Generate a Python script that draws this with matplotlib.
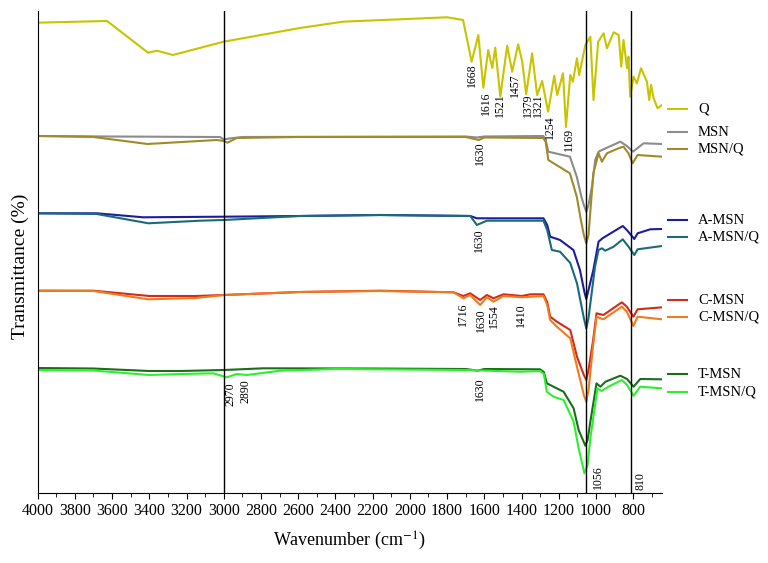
import matplotlib
matplotlib.use("Agg")
import matplotlib.pyplot as plt
from matplotlib.lines import Line2D

plt.rcParams['font.family'] = 'Liberation Serif'
plt.rcParams['mathtext.fontset'] = 'stix'

# spectra (wavenumber in cm-1, transmittance in a.u., stacked)
q_wn = [4000, 3627, 3407, 3359, 3273, 3000, 2590, 2359, 2052, 1800, 1714, 1668, 1632, 1605, 1579,
        1557, 1541, 1514, 1477, 1450, 1418, 1396, 1375, 1343, 1316, 1289, 1257, 1224, 1208, 1177,
        1161, 1138, 1124, 1102, 1090, 1057, 1030, 1013, 988, 959, 941, 905, 878, 864, 852, 833,
        825, 816, 798, 780, 758, 726, 714, 704, 690, 669, 645]
q_t = [470.3, 472, 440.3, 442.3, 438, 451.3, 465, 471.3, 473.7, 475.7, 473, 431.3, 458, 405.3, 443,
       425, 445.3, 396.3, 447.3, 421.3, 448.7, 431.3, 398.7, 439.7, 398, 412, 381.3, 417.3, 398, 419.7,
       366, 418, 411.3, 434.7, 418, 448, 456.3, 393, 451.3, 459.7, 444.7, 460.7, 458, 426.3, 453, 424.7,
       436.3, 396.3, 416.3, 409.7, 424.7, 411.3, 393, 408, 394.7, 384.7, 388]

msn_wn = [4000, 3610, 3056, 3020, 3000, 2970, 2900, 1700, 1640, 1600, 1283, 1270, 1256, 1140, 1103,
          1078, 1065, 1052, 1040, 1020, 1004, 986, 968, 869, 834, 801, 744, 645]
msn_t = [357, 356.5, 356, 356, 353.5, 354.5, 356, 356.5, 355.5, 356.5, 357, 353, 341.3, 336.3, 316.3,
         296, 288, 281.3, 288, 308, 333, 341.3, 343, 351.3, 347, 341.3, 349.7, 349]

msnq_wn = [4000, 3700, 3410, 3037, 3000, 2980, 2930, 2600, 1700, 1630, 1600, 1283, 1270, 1256, 1140,
           1103, 1082, 1065, 1052, 1040, 1014, 986, 968, 941, 879, 852, 825, 803, 776, 645]
msnq_t = [357, 356, 349, 353, 352, 350.3, 355, 356, 356, 353, 355.5, 355, 351, 333, 319.7,
          296.3, 274, 258, 249.7, 258, 319.7, 339.7, 331.3, 339.7, 344.7, 346.3, 339.7, 329.7, 338, 336.3]

amsn_wn = [4000, 3683, 3433, 3000, 2590, 2161, 1675, 1640, 1282, 1262, 1246, 1193, 1121, 1086, 1062,
           1052, 1040, 1014, 986, 965, 856, 834, 794, 776, 708, 645]
amsn_t = [279.7, 279.7, 275.7, 276.3, 277, 278, 277, 274.7, 274.7, 268, 256.3, 253, 243, 223, 201,
          194, 203, 223, 251.3, 254.7, 267, 263, 254, 259.7, 263.7, 264]

amsnq_wn = [4000, 3683, 3405, 3127, 3000, 2590, 2161, 1675, 1640, 1586, 1282, 1262, 1237, 1193, 1138,
            1102, 1065, 1052, 1040, 1005, 986, 968, 950, 905, 856, 825, 794, 776, 645]
amsnq_t = [279.7, 279, 269.7, 272.3, 273, 277, 278, 277, 268, 272.3, 272.3, 263, 243, 241.3, 230,
           209.7, 175, 164.7, 175, 226.3, 243, 244.7, 242.3, 246.3, 253.7, 246.3, 238, 243.7, 247]

cmsn_wn = [4000, 3700, 3400, 3150, 3000, 2590, 2161, 1766, 1712, 1676, 1622, 1586, 1551, 1497, 1398,
           1353, 1282, 1262, 1246, 1210, 1138, 1102, 1065, 1052, 1040, 1015, 997, 960, 861, 834,
           799, 776, 645]
cmsn_t = [202.3, 202.3, 197, 197, 198, 201, 202.3, 200.7, 197, 199.7, 193, 198, 194.7, 198.7, 197,
          198.7, 198.7, 191, 176.3, 171.3, 163, 136.3, 118, 113, 123, 153, 179.7, 178, 190.7, 186.3,
          176.3, 183.7, 185.7]

cmsnq_wn = [4000, 3700, 3405, 3150, 3000, 2590, 2161, 1766, 1712, 1676, 1622, 1586, 1551, 1497, 1398,
            1282, 1262, 1246, 1210, 1138, 1102, 1065, 1052, 1040, 1015, 997, 960, 861, 834, 799,
            776, 645]
cmsnq_t = [202.3, 202, 193.7, 195, 198, 201, 202, 200.7, 194.7, 198, 188, 195.7, 191.3, 197, 195.7,
           197, 188, 173, 166.3, 154.7, 126.3, 98, 91.3, 103, 148, 176.3, 173.7, 186.3, 181.3, 167,
           176.3, 173.7]

tmsn_wn = [4000, 3700, 3400, 3234, 3000, 2789, 2200, 1700, 1635, 1600, 1300, 1280, 1264, 1228, 1174,
           1120, 1093, 1057, 1045, 1030, 997, 976, 949, 869, 833, 798, 762, 645]
tmsn_t = [125, 124.5, 122, 122, 123, 124.7, 124.5, 124, 122.3, 124, 123.7, 121, 109.7, 106.3, 101.3,
          84.7, 63, 47.3, 53, 71.3, 109.7, 106.3, 111.3, 117.3, 114, 106.3, 114, 113.7]

tmsnq_wn = [4000, 3700, 3400, 3234, 3057, 2984, 2930, 2876, 2697, 2400, 1700, 1406, 1300, 1280, 1264,
            1228, 1174, 1120, 1093, 1062, 1045, 1030, 992, 970, 933, 861, 833, 798, 762, 645]
tmsnq_t = [123, 122.5, 118, 119, 119.7, 115.7, 119, 118, 122.3, 124, 123, 121.3, 122, 119, 101.3,
           96.3, 93, 71.3, 44.7, 19.7, 28, 54.7, 104.7, 102, 106.3, 113, 108, 97.3, 106.3, 104.7]

names = ["Q", "MSN", "MSN/Q", "A-MSN", "A-MSN/Q", "C-MSN", "C-MSN/Q", "T-MSN", "T-MSN/Q"]
wns = [q_wn, msn_wn, msnq_wn, amsn_wn, amsnq_wn, cmsn_wn, cmsnq_wn, tmsn_wn, tmsnq_wn]
ts = [q_t, msn_t, msnq_t, amsn_t, amsnq_t, cmsn_t, cmsnq_t, tmsn_t, tmsnq_t]
colors = ["#c8c400", "#8c8c8c", "#a08a2a", "#1c1ca0", "#1a6b78",
          "#d42a1a", "#f07a1e", "#1a6e1a", "#2cf02c"]

# peak labels: text, x (cm-1), top of text (a.u.)
peak_text = ["1668", "1616", "1521", "1457", "1379", "1321", "1254", "1169",
             "1630", "1630", "1716", "1630", "1554", "1410", "1630", "2970", "2890", "1056", "810"]
peak_x = [1668, 1591, 1514, 1434, 1366, 1309, 1246, 1147,
          1622, 1626, 1712, 1618, 1547, 1403, 1622, 2966, 2885, 991, 762]
peak_y = [430, 401, 400, 420, 399, 399, 378, 365,
          352, 265, 191, 185, 189, 190, 116, 111, 114, 28, 21]

vlines = [3000, 1056, 810]

# legend rows (figure pixel y from top)
legend_py = [109, 132, 149, 220, 236.7, 300, 317, 374, 391.7]

fig = plt.figure(figsize=(7.68, 5.63), dpi=100)
ax = fig.add_axes([0.049, 0.1243, 0.813, 0.8562])

for wn, t, c in zip(wns, ts, colors):
    ax.plot(wn, t, color=c, lw=1.5)

for v in vlines:
    ax.axvline(v, color="black", lw=1)

for s, x, y in zip(peak_text, peak_x, peak_y):
    ax.text(x, y, s, rotation=90, ha="center", va="top", fontsize=8.5)

ax.set_xlim(4000, 645)
ax.set_ylim(0, 482)
ax.set_xticks(range(4000, 700, -200))
ax.set_xticks(range(3900, 650, -200), minor=True)
ax.set_yticks([])
ax.tick_params(axis="x", which="major", direction="out", length=4, labelsize=11.5, pad=3)
ax.tick_params(axis="x", which="minor", direction="out", length=3)
ax.spines["top"].set_visible(False)
ax.spines["right"].set_visible(False)
ax.set_xlabel(r"Wavenumber (cm$^{-1}$)", fontsize=13, labelpad=8)
ax.set_ylabel("Transmittance (%)", fontsize=14)
ax.yaxis.set_label_coords(-0.014, 0.47)

W, H = 768, 563
for name, c, py in zip(names, colors, legend_py):
    yf = 1 - py / H
    fig.add_artist(Line2D([668 / W, 687 / W], [yf, yf], color=c, lw=1.5))
    fig.text(698 / W, yf, name, fontsize=10.5, va="center", ha="left")

fig.savefig("out.png", dpi=100)
